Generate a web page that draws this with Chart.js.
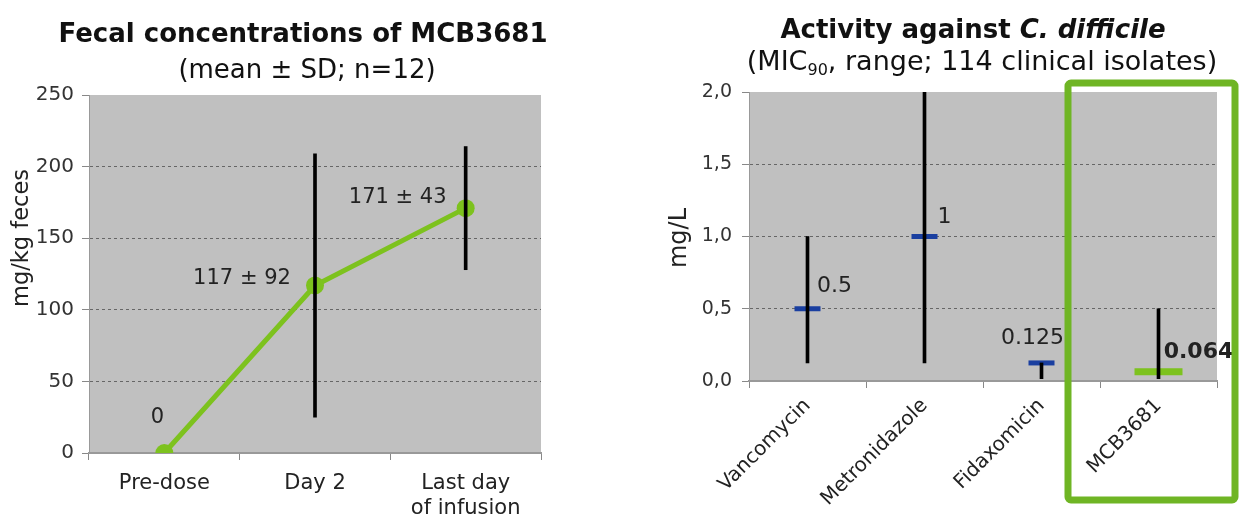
<!DOCTYPE html>
<html>
<head>
<meta charset="utf-8">
<script src="https://cdn.jsdelivr.net/npm/chart.js@4"></script>
<style>
	body { margin: 0; background: #fff; width: 1240px; height: 516px; overflow: hidden; position: relative; font-family: "DejaVu Sans", Verdana, sans-serif; color: #111; }
	.box { position: absolute; top: 0; width: 620px; height: 516px; }
	.title { position: absolute; white-space: nowrap; transform: translate(-50%, -50%); font-size: 26px; line-height: 1; }
	.title b { font-weight: bold; }
	sub { font-size: 16px; vertical-align: -5px; }
</style>
</head>
<body>
<div class="box" style="left:0"><canvas id="fecal" width="620" height="516"></canvas></div>
<div class="box" style="left:620px"><canvas id="mic" width="620" height="516"></canvas></div>
<div class="title" style="left:303px; top:33px"><b>Fecal concentrations of MCB3681</b></div>
<div class="title" style="left:307px; top:69px">(mean ± SD; n=12)</div>
<div class="title" style="left:973px; top:29px"><b>Activity against <i>C. difficile</i></b></div>
<div class="title" style="left:982px; top:62px; font-size:27px">(MIC<sub>90</sub>, range; 114 clinical isolates)</div>
<script>
// left chart: fecal concentrations
const timepoints = ["Pre-dose", "Day 2", ["Last day", "of infusion"]];
const meanConc = [0, 117, 171];
const sdConc = [0, 92, 43];
const concLabels = ["0", "117 ± 92", "171 ± 43"];

// right chart: MIC90 and range
const drugs = ["Vancomycin", "Metronidazole", "Fidaxomicin", "MCB3681"];
const mic90 = [0.5, 1, 0.125, 0.064];
const rangeLow = [0.125, 0.125, 0.016, 0.016];
const rangeHigh = [1, 2, 0.125, 0.5];
const micLabels = ["0.5", "1", "0.125", "0.064"];

const FONT = "'DejaVu Sans', Verdana, sans-serif";
const GREEN = "#7dc21e";
const BLUE = "#1a3fa0";

Chart.defaults.font.family = FONT;
Chart.defaults.color = "#333";
Chart.defaults.animation = false;

const plotBg = {
	id: "plotBg",
	beforeDraw(chart) {
		const { ctx, chartArea: a } = chart;
		ctx.save();
		ctx.fillStyle = "#c0c0c0";
		ctx.fillRect(a.left, a.top, a.width, a.height);
		ctx.restore();
	},
};

// text next to the points + y axis caption
const pointText = {
	id: "pointText",
	afterDraw(chart, args, opts) {
		const { ctx } = chart;
		const x = chart.scales.x;
		const y = chart.scales.y;
		ctx.save();
		ctx.fillStyle = "#222";
		ctx.textAlign = "center";
		ctx.textBaseline = "middle";
		opts.texts.forEach((t, i) => {
			ctx.font = (opts.bold && opts.bold[i] ? "bold " : "") + opts.size + "px " + FONT;
			ctx.fillText(t, x.getPixelForValue(i) + opts.offsets[i][0], y.getPixelForValue(opts.values[i]) + opts.offsets[i][1]);
		});
		ctx.font = opts.captionSize + "px " + FONT;
		ctx.translate(opts.caption[1], opts.caption[2]);
		ctx.rotate(-Math.PI / 2);
		ctx.fillText(opts.caption[0], 0, 0);
		ctx.restore();
	},
};

const highlight = {
	id: "highlight",
	afterDraw(chart) {
		const { ctx } = chart;
		const x = chart.scales.x;
		const half = (x.getPixelForValue(1) - x.getPixelForValue(0)) / 2;
		const cx = x.getPixelForValue(drugs.length - 1);
		const left = cx - half - 32;
		const right = cx + half + 18;
		ctx.save();
		ctx.strokeStyle = "#6fb524";
		ctx.lineWidth = 7;
		ctx.lineJoin = "round";
		ctx.beginPath();
		ctx.roundRect(left, 83, right - left, 417, 3);
		ctx.stroke();
		ctx.restore();
	},
};

function gridColor(ctx) {
	const v = ctx.tick && ctx.tick.value;
	const max = ctx.scale.max;
	return v === 0 || v === max ? "rgba(0,0,0,0)" : "#666";
}

new Chart(document.getElementById("fecal"), {
	data: {
		labels: timepoints,
		datasets: [
			{
				type: "bar",
				data: meanConc.map((m, i) => (sdConc[i] ? [m - sdConc[i], m + sdConc[i]] : null)),
				backgroundColor: "#000",
				barThickness: 3,
				order: 0,
			},
			{
				type: "line",
				data: meanConc,
				borderColor: GREEN,
				backgroundColor: GREEN,
				borderWidth: 5,
				pointRadius: 9,
				pointBorderWidth: 0,
				order: 1,
			},
		],
	},
	options: {
		responsive: false,
		layout: { autoPadding: false, padding: { top: 95, right: 79, left: 0, bottom: 0 } },
		plugins: {
			legend: { display: false },
			tooltip: { enabled: false },
			pointText: {
				texts: concLabels,
				values: meanConc,
				offsets: [[-7, -35], [-73, -7], [-68, -11]],
				size: 21,
				caption: ["mg/kg feces", 22, 238],
				captionSize: 22.5,
			},
		},
		scales: {
			x: {
				offset: true,
				afterFit(scale) { scale.height = 63; },
				grid: { offset: true, drawOnChartArea: false, tickLength: 7, color: "#888" },
				border: { color: "#999", width: 2 },
				ticks: { font: { size: 21, lineHeight: 1.2 }, padding: 11, color: "#222", maxRotation: 0 },
			},
			y: {
				min: 0,
				max: 250,
				afterFit(scale) { scale.width = 89; },
				ticks: { stepSize: 50, font: { size: 20 }, padding: 8, color: "#333" },
				grid: { color: gridColor, tickColor: "#888", tickLength: 7 },
				border: { color: "#999", width: 1, dash: [3, 3] },
			},
		},
	},
	plugins: [plotBg, pointText],
});

new Chart(document.getElementById("mic"), {
	data: {
		labels: drugs,
		datasets: [
			{
				type: "bar",
				data: rangeLow.map((lo, i) => [lo, rangeHigh[i]]),
				backgroundColor: "#000",
				barThickness: 3,
				order: 0,
			},
			{
				type: "line",
				data: mic90,
				showLine: false,
				pointStyle: "line",
				pointRadius: [13, 13, 13, 24],
				pointBorderWidth: [5, 5, 5, 7],
				pointBorderColor: [BLUE, BLUE, BLUE, GREEN],
				order: 1,
			},
		],
	},
	options: {
		responsive: false,
		layout: { autoPadding: false, padding: { top: 92, right: 23, left: 0, bottom: 0 } },
		plugins: {
			legend: { display: false },
			tooltip: { enabled: false },
			pointText: {
				texts: micLabels,
				values: mic90,
				offsets: [[27, -22], [20, -19], [-9, -25], [40, -19]],
				bold: [false, false, false, true],
				size: 22,
				caption: ["mg/L", 60, 238],
				captionSize: 24,
			},
		},
		scales: {
			x: {
				offset: true,
				afterFit(scale) {
					scale.height = 135;
					scale.paddingLeft = 0;
					scale.paddingRight = 0;
				},
				grid: { offset: true, drawOnChartArea: false, tickLength: 7, color: "#888" },
				border: { color: "#999", width: 2 },
				ticks: { font: { size: 20 }, padding: 6, color: "#222", minRotation: 45, maxRotation: 45 },
			},
			y: {
				min: 0,
				max: 2,
				afterFit(scale) { scale.width = 129; },
				ticks: {
					stepSize: 0.5,
					font: { size: 19 },
					padding: 10,
					color: "#333",
					callback: (v) => v.toFixed(1).replace(".", ","),
				},
				grid: { color: gridColor, tickColor: "#888", tickLength: 7 },
				border: { color: "#999", width: 1, dash: [3, 3] },
			},
		},
	},
	plugins: [plotBg, pointText, highlight],
});
</script>
</body>
</html>
